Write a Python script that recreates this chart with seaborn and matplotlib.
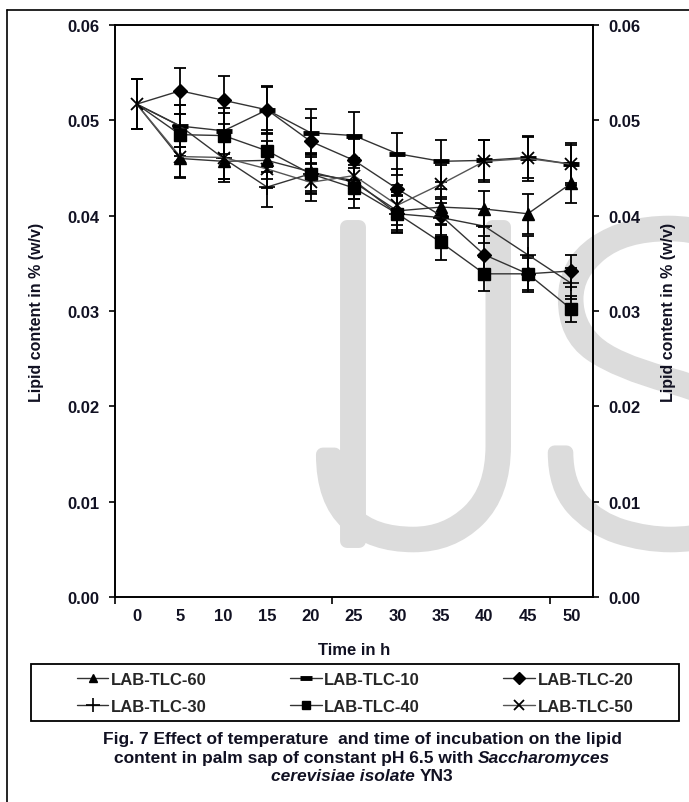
import numpy as np
import pandas as pd
import matplotlib
matplotlib.use("Agg")
import matplotlib.pyplot as plt
import matplotlib.patheffects as pe
import seaborn as sns
from matplotlib.lines import Line2D
from matplotlib.patches import Rectangle
from matplotlib.ticker import FixedLocator, FormatStrFormatter

# ---------------- data ----------------
time_h = [0, 5, 10, 15, 20, 25, 30, 35, 40, 45, 50]
series_names = ["LAB-TLC-60", "LAB-TLC-10", "LAB-TLC-20",
                "LAB-TLC-30", "LAB-TLC-40", "LAB-TLC-50"]

tlc60 = [0.0517, 0.0460, 0.0457, 0.0458, 0.0446, 0.0435, 0.0405, 0.0409, 0.0407, 0.0402, 0.0434]
tlc10 = [0.0517, 0.0494, 0.0489, 0.0511, 0.0487, 0.0484, 0.0465, 0.0457, 0.0458, 0.0461, 0.0454]
tlc20 = [0.0517, 0.0531, 0.0521, 0.0511, 0.0478, 0.0458, 0.0428, 0.0400, 0.0359, 0.0339, 0.0342]
tlc30 = [0.0517, 0.0494, 0.0460, 0.0430, 0.0444, 0.0437, 0.0402, 0.0398, 0.0389, 0.0359, 0.0329]
tlc40 = [0.0517, 0.0485, 0.0484, 0.0468, 0.0444, 0.0429, 0.0402, 0.0372, 0.0339, 0.0339, 0.0302]
tlc50 = [0.0517, 0.0462, 0.0461, 0.0449, 0.0435, 0.0442, 0.0411, 0.0433, 0.0457, 0.0460, 0.0454]

err60 = [0.0026, 0.0021, 0.0022, 0.0020, 0.0020, 0.0018, 0.0020, 0.0019, 0.0019, 0.0021, 0.0021]
err10 = [0.0026, 0.0022, 0.0024, 0.0025, 0.0025, 0.0025, 0.0022, 0.0022, 0.0021, 0.0022, 0.0020]
err20 = [0.0026, 0.0024, 0.0025, 0.0024, 0.0024, 0.0022, 0.0021, 0.0020, 0.0020, 0.0019, 0.0017]
err30 = [0.0026, 0.0022, 0.0022, 0.0021, 0.0020, 0.0020, 0.0019, 0.0020, 0.0018, 0.0020, 0.0016]
err40 = [0.0026, 0.0022, 0.0024, 0.0022, 0.0021, 0.0021, 0.0020, 0.0019, 0.0018, 0.0017, 0.0014]
err50 = [0.0026, 0.0021, 0.0023, 0.0020, 0.0020, 0.0018, 0.0021, 0.0020, 0.0022, 0.0024, 0.0022]

y_ticks = [0.00, 0.01, 0.02, 0.03, 0.04, 0.05, 0.06]
y_label = "Lipid content in % (w/v)"
x_label = "Time in h"

values = [tlc60, tlc10, tlc20, tlc30, tlc40, tlc50]
errors = [err60, err10, err20, err30, err40, err50]

df = pd.DataFrame({
    "time": np.tile(time_h, len(series_names)),
    "lipid": np.concatenate(values),
    "err": np.concatenate(errors),
    "series": np.repeat(series_names, len(time_h)),
})

# ---------------- styling ----------------
sns.set_theme(style="white")
plt.rcParams["font.family"] = ["Liberation Sans", "DejaVu Sans"]
plt.rcParams["font.weight"] = "bold"

W, H = 689, 803
fig = plt.figure(figsize=(W / 100, H / 100), dpi=100)
fig.patch.set_facecolor("white")

# watermark (behind the chart): thin glyphs thickened with a same-colour stroke
wm_col = "#dcdcdc"
wm = dict(fontsize=318, color=wm_col, family=["Roboto", "Liberation Sans"],
          fontweight="light", va="baseline", zorder=-10,
          path_effects=[pe.withStroke(linewidth=10, foreground=wm_col)])
fig.text(353 / W, 1 - 542 / H, "I", ha="center", **wm)
fig.text(546 / W, 1 - 542 / H, "J", ha="right", **wm)
fig.text(534 / W, 1 - 542 / H, "S", ha="left", **wm)

L, R, T, B = 115, 593, 26, 598
ax = fig.add_axes([L / W, 1 - B / H, (R - L) / W, (B - T) / H])
ax.patch.set_visible(False)

skip0 = slice(1, None)
styles = {
    "LAB-TLC-60": dict(marker="^", markersize=8, markeredgewidth=1, markerfacecolor="black", color="#333333", markevery=skip0),
    "LAB-TLC-10": dict(marker="_", markersize=11, markeredgewidth=3.5, markerfacecolor="black", color="#333333", markevery=skip0),
    "LAB-TLC-20": dict(marker="D", markersize=7.5, markeredgewidth=1, markerfacecolor="black", color="#333333", markevery=skip0),
    "LAB-TLC-30": dict(marker="+", markersize=12, markeredgewidth=1.2, markerfacecolor="black", color="#333333", markevery=skip0),
    "LAB-TLC-40": dict(marker="s", markersize=8, markeredgewidth=1, markerfacecolor="black", color="#333333", markevery=skip0),
    "LAB-TLC-50": dict(marker="x", markersize=9, markeredgewidth=1.3, markerfacecolor="black", color="#555555"),
}

for name in series_names:
    sub = df[df["series"] == name]
    st = styles[name]
    ax.errorbar(sub["time"], sub["lipid"], yerr=sub["err"], fmt="none",
                ecolor="black", elinewidth=1.3, capsize=4.5, capthick=1.3, zorder=2)
    sns.lineplot(data=sub, x="time", y="lipid", ax=ax, label=name,
                 linewidth=1.0, markeredgecolor="black", errorbar=None,
                 zorder=3, **st)

handles, labels = ax.get_legend_handles_labels()
if ax.get_legend() is not None:
    ax.get_legend().remove()

# axes limits, ticks
ax.set_xlim(-2.5, 52.5)
ax.set_ylim(0, 0.06)
ax.set_xticks(time_h)
ax.set_xticklabels([str(t) for t in time_h])
ax.xaxis.set_minor_locator(FixedLocator([-2.5, 22.5, 47.5]))
ax.set_yticks(y_ticks)
ax.yaxis.set_major_formatter(FormatStrFormatter("%.2f"))
ax.tick_params(axis="x", which="major", length=0, pad=8, labelsize=12, labelcolor="#111122")
ax.tick_params(axis="x", which="minor", length=5, width=1.2, direction="out", color="black", bottom=True)
ax.tick_params(axis="y", which="major", length=4, width=1.2, direction="out", color="black",
               pad=7, labelsize=12, labelcolor="#111122", left=True)
for sp in ax.spines.values():
    sp.set_visible(True)
    sp.set_color("black")
    sp.set_linewidth(1.2)

ax.set_xlabel(x_label, fontsize=12, fontweight="bold", va="center", color="#111122")
ax.xaxis.set_label_coords(0.5, (B - 651) / (B - T))
ax.set_ylabel(y_label, fontsize=11.5, fontweight="bold", va="center", color="#111122")
ax.yaxis.set_label_coords((37 - L) / (R - L), 0.5)

ax2 = ax.twinx()
ax2.set_ylim(0, 0.06)
ax2.set_yticks(y_ticks)
ax2.yaxis.set_major_formatter(FormatStrFormatter("%.2f"))
ax2.tick_params(axis="y", which="major", length=4, width=1.2, direction="out", color="black",
                pad=7, labelsize=12, labelcolor="#111122", right=True)
for sp in ax2.spines.values():
    sp.set_color("black")
    sp.set_linewidth(1.2)
ax2.set_ylabel(y_label, fontsize=11.5, fontweight="bold", va="center", color="#111122")
ax2.yaxis.set_label_coords((668 - L) / (R - L), 0.5)
ax2.grid(False)
ax.grid(False)

# legend (3 columns, row-wise order as in the reference)
order = ["LAB-TLC-60", "LAB-TLC-30", "LAB-TLC-10", "LAB-TLC-40", "LAB-TLC-20", "LAB-TLC-50"]
hmap = dict(zip(labels, handles))
fig.legend([hmap[n] for n in order], order, loc="center",
           bbox_to_anchor=(355 / W, 1 - 694 / H), bbox_transform=fig.transFigure,
           ncol=3, frameon=False, handlelength=1.9, handletextpad=0.15,
           columnspacing=5.0, labelspacing=0.7, markerscale=0.8,
           prop=dict(weight="bold", size=12))
fig.add_artist(Rectangle((31 / W, 1 - 722 / H), (679 - 31) / W, (722 - 665) / H,
                         transform=fig.transFigure, fill=False, edgecolor="black", linewidth=1.3))

# outer frame (left and top edges visible)
fig.add_artist(Line2D([7.3 / W, 7.3 / W], [0, 1 - 11 / H], transform=fig.transFigure,
                      color="black", linewidth=1.2))
fig.add_artist(Line2D([7.3 / W, 1], [1 - 11 / H, 1 - 11 / H], transform=fig.transFigure,
                      color="black", linewidth=1.2))

# caption with mixed italic parts, each line centred
renderer = fig.canvas.get_renderer()
def centred_line(y_px, segments, cx_px=362, size=12.5, gap_px=4.8):
    objs = []
    for text, style in segments:
        t = fig.text(0, 1 - y_px / H, text, fontsize=size, fontweight="bold",
                     fontstyle=style, va="center", ha="left", color="#111122")
        objs.append(t)
    widths = [o.get_window_extent(renderer).width for o in objs]
    total = sum(widths) + gap_px * (len(objs) - 1)
    x = cx_px - total / 2
    for o, w in zip(objs, widths):
        o.set_x(x / W)
        x += w + gap_px

centred_line(740, [("Fig. 7 Effect of temperature  and time of incubation on the lipid", "normal")])
centred_line(759, [("content in palm sap of constant pH 6.5 with", "normal"), ("Saccharomyces", "italic")])
centred_line(777, [("cerevisiae isolate", "italic"), ("YN3", "normal")])

fig.savefig("out.png", dpi=100)
